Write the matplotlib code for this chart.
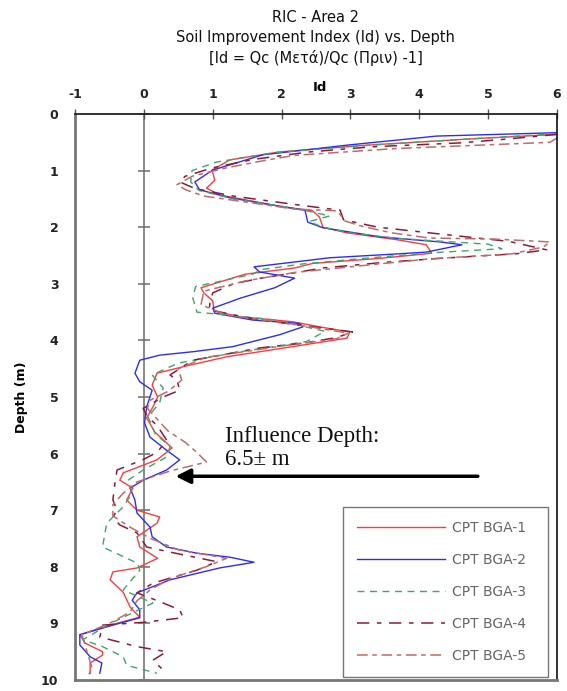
import numpy as np
import matplotlib
matplotlib.use('Agg')
import matplotlib.pyplot as plt

plt.rcParams['axes.unicode_minus'] = False

# Id values, one depth list per CPT
depth_1 = [0.36, 0.43, 0.55, 0.67, 0.81, 0.99, 1.17, 1.31, 1.43, 1.63, 1.71, 1.82, 2.0, 2.1, 2.22,
           2.31, 2.46, 2.55, 2.64, 2.72, 2.83, 3.07, 3.16, 3.3, 3.48, 3.58, 3.67, 3.76, 3.85, 3.96,
           4.11, 4.29, 4.45, 4.58, 4.79, 5.0, 5.18, 5.37, 5.62, 5.9, 6.11, 6.34, 6.47, 6.61, 6.82,
           7.0, 7.12, 7.23, 7.47, 7.65, 7.85, 8.02, 8.09, 8.23, 8.45, 8.71, 8.89, 9.03, 9.2, 9.35,
           9.5, 9.56, 9.7, 9.88]
bga_1 = [6.0, 4.88, 3.24, 1.97, 1.25, 0.99, 1.03, 0.91, 1.1, 1.97, 2.45, 2.55, 2.6, 2.95, 3.67,
         4.1, 4.18, 3.43, 2.45, 2.19, 1.47, 0.83, 0.87, 1.0, 1.02, 1.39, 2.16, 2.55, 2.99, 2.95,
         2.16, 1.2, 0.62, 0.19, 0.12, 0.2, 0.13, 0.04, 0.16, 0.41, 0.19, -0.3, -0.35, -0.16, -0.25,
         -0.1, 0.23, 0.19, -0.1, -0.06, 0.2, -0.1, -0.45, -0.49, -0.3, -0.2, -0.06, -0.49, -0.93, -0.85,
         -0.6, -0.6, -0.78, -0.78]

depth_2 = [0.33, 0.39, 0.55, 0.72, 0.99, 1.2, 1.34, 1.48, 1.63, 1.70, 1.91, 2.01, 2.17, 2.26, 2.31,
           2.44, 2.47, 2.54, 2.70, 2.79, 2.90, 3.07, 3.25, 3.43, 3.52, 3.64, 3.70, 3.76, 3.90, 4.11,
           4.20, 4.26, 4.35, 4.58, 4.73, 4.88, 5.18, 5.46, 5.71, 5.94, 6.11, 6.29, 6.47, 6.61, 6.82,
           7.05, 7.3, 7.47, 7.65, 7.76, 7.83, 7.92, 8.02, 8.23, 8.46, 8.59, 8.76, 8.9, 9.03, 9.2,
           9.38, 9.59, 9.7, 9.88]
bga_2 = [6.0, 4.25, 2.95, 1.73, 1.0, 0.74, 0.81, 1.25, 1.97, 2.34, 2.38, 2.60, 3.43, 4.3, 4.62,
         4.1, 3.7, 2.7, 1.6, 1.68, 2.19, 1.9, 1.41, 1.0, 1.03, 1.58, 2.26, 2.31, 1.97, 1.29,
         0.71, 0.23, -0.06, -0.13, -0.06, 0.12, 0.04, 0.01, 0.09, 0.33, 0.52, 0.33, -0.01, -0.2, -0.13,
         -0.1, 0.09, 0.12, 0.33, 0.77, 1.25, 1.6, 1.10, 0.38, -0.1, -0.17, -0.06, -0.06, -0.45, -0.93,
         -0.93, -0.78, -0.61, -0.64]

depth_3 = [0.35, 0.45, 0.55, 0.68, 0.85, 1.0, 1.2, 1.35, 1.5, 1.63, 1.72, 1.8, 1.9, 2.0, 2.1,
           2.2, 2.3, 2.38, 2.45, 2.55, 2.65, 2.75, 2.83, 3.05, 3.25, 3.5, 3.64, 3.84, 4.02, 4.2,
           4.4, 4.61, 4.84, 5.1, 5.35, 5.64, 5.88, 6.06, 6.29, 6.47, 6.7, 6.94, 7.23, 7.65, 7.79,
           7.94, 8.06, 8.41, 8.64, 8.98, 9.29, 9.41, 9.59, 9.74, 9.88]
bga_3 = [6.0, 4.6, 3.3, 1.9, 1.05, 0.7, 0.68, 0.8, 1.3, 2.0, 2.4, 2.7, 2.4, 2.6, 3.0,
         3.7, 5.0, 5.2, 4.2, 3.2, 2.3, 1.7, 1.58, 0.75, 0.71, 0.77, 1.93, 2.63, 2.36, 1.4,
         0.5, 0.12, 0.28, 0.23, 0.06, 0.16, 0.38, 0.33, -0.01, -0.23, -0.17, -0.3, -0.54, -0.6, -0.35,
         -0.09, -0.06, -0.3, 0.13, -0.45, -0.89, -0.6, -0.3, -0.25, 0.19]

depth_4 = [0.36, 0.45, 0.51, 0.58, 0.67, 0.8, 0.95, 1.1, 1.2, 1.32, 1.45, 1.6, 1.7, 1.87, 2.0,
           2.12, 2.25, 2.4, 2.47, 2.55, 2.62, 2.72, 2.81, 2.9, 3.0, 3.16, 3.32, 3.46, 3.64, 3.75,
           3.85, 3.95, 4.05, 4.13, 4.35, 4.61, 4.7, 4.88, 5.0, 5.2, 5.35, 5.5, 5.76, 5.97, 6.1,
           6.29, 6.52, 6.82, 7.0, 7.12, 7.26, 7.4, 7.65, 7.74, 7.91, 8.06, 8.29, 8.46, 8.6, 8.76,
           8.9, 8.98, 9.03, 9.24, 9.41, 9.5, 9.65, 9.88]
bga_4 = [6.0, 5.2, 4.6, 3.3, 2.4, 1.6, 1.0, 0.6, 0.52, 0.75, 1.3, 2.2, 2.85, 2.9, 3.4,
         4.3, 5.3, 5.85, 5.4, 4.3, 3.5, 2.6, 2.16, 1.7, 1.3, 1.0, 0.96, 0.95, 1.68, 2.4,
         3.03, 2.8, 2.3, 1.7, 0.71, 0.38, 0.48, 0.52, 0.28, -0.01, 0.05, 0.19, 0.33, 0.2, 0.0,
         -0.39, -0.42, -0.45, -0.39, -0.45, -0.35, -0.1, 0.04, 0.38, 1.06, 0.77, 0.13, -0.1, 0.2, 0.52,
         0.57, 0.0, -0.6, -0.64, -0.1, 0.33, 0.13, 0.33]

depth_5 = [0.42, 0.5, 0.61, 0.73, 0.81, 0.95, 1.1, 1.25, 1.34, 1.45, 1.56, 1.68, 1.71, 1.89, 1.98,
           2.1, 2.19, 2.21, 2.26, 2.35, 2.47, 2.56, 2.68, 2.8, 2.95, 3.13, 3.37, 3.55, 3.7, 3.87,
           3.97, 4.1, 4.3, 4.5, 4.7, 4.9, 5.05, 5.2, 5.4, 5.6, 5.8, 5.98, 6.15, 6.3, 6.5,
           6.7, 6.9, 7.1, 7.3, 7.5, 7.7, 7.85, 8.0, 8.2, 8.4, 8.6, 8.8, 9.0, 9.2, 9.4,
           9.6, 9.8, 9.9]
bga_5 = [6.0, 5.9, 3.66, 2.19, 1.8, 1.2, 0.7, 0.48, 0.61, 0.87, 1.51, 2.19, 2.81, 2.92, 3.16,
         3.6, 4.14, 5.1, 5.9, 5.8, 5.35, 4.14, 3.16, 2.19, 1.47, 0.87, 0.83, 1.2, 2.1, 2.97,
         2.8, 2.0, 0.9, 0.5, 0.55, 0.35, 0.1, 0.05, 0.2, 0.35, 0.6, 0.77, 0.91, 0.4, -0.1,
         -0.3, -0.45, -0.45, -0.2, 0.1, 0.5, 1.2, 0.9, 0.4, 0.1, -0.1, -0.2, -0.5, -0.9, -0.85,
         -0.8, -0.75, -0.8]

x_ticks = [-1, 0, 1, 2, 3, 4, 5, 6]
y_ticks = [0, 1, 2, 3, 4, 5, 6, 7, 8, 9, 10]
influence_depth = 6.4

fig = plt.figure(figsize=(5.67, 6.91), dpi=100)
ax = fig.add_axes([0.1323, 0.0159, 0.8501, 0.8191])

ax.plot(bga_1, depth_1, color='#ff3b3b', lw=1.0, label='CPT BGA-1  ')
ax.plot(bga_2, depth_2, color='#2b2bff', lw=1.0, label='CPT BGA-2  ')
ax.plot(bga_3, depth_3, color='#3aa86a', lw=1.0, dashes=(5, 4), label='CPT BGA-3  ')
ax.plot(bga_4, depth_4, color='#8b1a3a', lw=1.1, dashes=(8, 5, 3, 5), label='CPT BGA-4  ')
ax.plot(bga_5, depth_5, color='#c06a6a', lw=1.1, dashes=(7, 3, 3, 3), label='CPT BGA-5  ')

ax.set_xlim(-1, 6)
ax.set_ylim(10, 0)

# vertical axis crosses at Id = 0, as in the spreadsheet original
ax.axvline(0, color='#777777', lw=1.2, zorder=0)
ax.plot(np.zeros(len(y_ticks)), y_ticks, ls='none', marker='_', ms=8, mew=1.2,
        color='#777777', clip_on=False, zorder=0)

ax.xaxis.tick_top()
ax.set_xticks(x_ticks)
ax.set_yticks(y_ticks)
ax.tick_params(axis='x', direction='inout', length=7, width=1, color='#555555',
               labelsize=9, pad=6)
ax.tick_params(axis='y', length=0, labelsize=9, pad=12)
for lab in ax.get_xticklabels() + ax.get_yticklabels():
    lab.set_fontweight('bold')
    lab.set_color('#222222')

for side in ['top', 'right']:
    ax.spines[side].set_color('#222222')
    ax.spines[side].set_linewidth(1.3)
for side in ['left', 'bottom']:
    ax.spines[side].set_color('#777777')
    ax.spines[side].set_linewidth(2.0)

ax.xaxis.set_label_position('top')
ax.set_xlabel('Id', fontweight='bold', fontsize=9.5)
ax.xaxis.set_label_coords(0.508, 1.040)
ax.set_ylabel('Depth (m)', fontweight='bold', fontsize=9,
              family=['Liberation Sans Narrow', 'DejaVu Sans'])
ax.yaxis.set_label_coords(-0.098, 0.5)

fig.text(0.557, 0.985, 'RIC - Area 2\nSoil Improvement Index (Id) vs. Depth\n'
         '[Id = Qc (Μετά)/Qc (Πριν) -1]', ha='center', va='top', fontsize=10.5,
         linespacing=1.38, color='#111111')

ax.annotate('', xy=(0.46, influence_depth), xytext=(4.85, influence_depth),
            arrowprops=dict(arrowstyle='-|>', lw=2.5, mutation_scale=22, color='black',
                            shrinkA=0, shrinkB=0))
ax.text(1.18, 5.9, 'Influence Depth:\n6.5± m', family='Liberation Serif', fontsize=16.5,
        linespacing=1.15, va='center', ha='left', color='#111111')

leg = ax.legend(loc='lower right', bbox_to_anchor=(0.982, 0.005), borderaxespad=0,
                fancybox=False, edgecolor='#555555', fontsize=10, handlelength=6.3,
                handletextpad=0.5, labelspacing=1.3, borderpad=1.0, labelcolor='#666666')
leg.get_frame().set_linewidth(1.0)

fig.savefig('out.png', dpi=100)
